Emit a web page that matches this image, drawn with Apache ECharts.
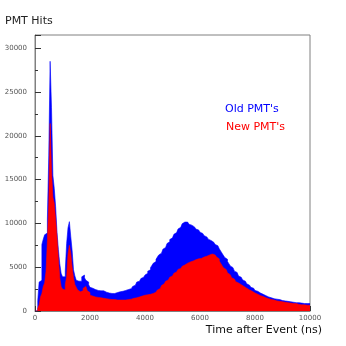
<!DOCTYPE html>
<html>
<head>
<meta charset="utf-8">
<script src="https://cdn.jsdelivr.net/npm/echarts@6/dist/echarts.min.js"></script>
<style>html,body{margin:0;padding:0;background:#fff;}#c{width:346px;height:346px;}</style>
</head>
<body>
<div id="c"></div>
<script>
// Histogram bins: 50 ns wide, bin start times 0..9950
const binWidth = 50;
const xTicks = [0, 2000, 4000, 6000, 8000, 10000];
const yTicks = [0, 5000, 10000, 15000, 20000, 25000, 30000];

// Old PMT's (blue) counts per bin
const oldPMT = [
0,0,1200,3300,3500,7600,8200,8700,8900,10500,
17700,28500,23200,15500,14000,11900,9000,7000,5400,4300,
3900,3900,4600,7700,9500,10200,8500,6900,4700,4000,
3500,3400,3300,3400,3900,4100,3800,3500,3300,3000,
2700,2600,2500,2450,2400,2350,2300,2300,2250,2300,
2200,2150,2100,2050,2100,2000,2050,2000,2050,2100,
2150,2200,2150,2250,2300,2350,2400,2450,2500,2550,
2650,2800,2950,3150,3300,3400,3550,3700,3850,3950,
4100,4300,4550,4700,4950,5200,5450,5650,5900,6150,
6400,6600,6800,7050,7250,7450,7700,7900,8150,8350,
8550,8750,8950,9150,9350,9550,9750,9950,10150,10100,
10150,10000,9900,9800,9700,9600,9500,9350,9250,9100,
9000,8850,8700,8600,8450,8300,8200,8050,7950,7850,
7750,7600,7450,7300,7100,6850,6600,6350,6100,5900,
5650,5400,5150,4950,4750,4550,4400,4200,4000,3850,
3700,3550,3400,3250,3100,2950,2850,2700,2600,2500,
2350,2250,2150,2050,1950,1900,1800,1750,1650,1600,
1550,1500,1450,1400,1400,1350,1300,1300,1250,1200,
1200,1150,1150,1100,1100,1050,1050,1000,1000,950,
950,950,900,900,900,850,850,850,850,850
];

// New PMT's (red) counts per bin
const newPMT = [
0,0,300,700,1600,2000,2800,3200,4500,8000,
12300,21400,16100,13000,12300,10500,8400,6000,3800,2800,
2500,2400,3000,3900,6500,7500,6600,5000,3800,3000,
2700,2400,2200,2100,2300,2600,2800,2600,2300,2100,
1800,1700,1650,1600,1600,1550,1550,1500,1500,1450,
1450,1400,1400,1350,1350,1300,1300,1300,1250,1250,
1250,1250,1250,1250,1250,1250,1300,1300,1350,1350,
1400,1450,1500,1500,1550,1600,1650,1700,1750,1800,
1800,1850,1900,1900,1950,2000,2050,2150,2250,2400,
2550,2700,2900,3100,3250,3400,3550,3700,3850,4000,
4150,4300,4450,4600,4750,4850,5000,5100,5250,5350,
5450,5500,5600,5650,5700,5750,5850,5900,5950,6000,
6000,6050,6150,6200,6250,6300,6400,6450,6500,6450,
6400,6300,6150,5950,5700,5450,5200,4950,4750,4550,
4350,4150,3950,3800,3650,3500,3350,3200,3100,3000,
2900,2800,2700,2600,2500,2400,2300,2250,2150,2050,
2000,1900,1850,1750,1700,1650,1550,1500,1450,1400,
1350,1300,1250,1250,1200,1150,1150,1100,1100,1050,
1000,1000,950,950,900,900,900,850,850,850,
750,750,750,700,700,700,680,660,650,650
];

function toSteps(vals) {
  const pts = vals.map((v, i) => [i * binWidth, v]);
  pts.push([vals.length * binWidth, vals[vals.length - 1]]);
  return pts;
}

const chart = echarts.init(document.getElementById('c'), null, {renderer: 'canvas'});
const axisGray = '#808080';
const labelGray = '#555';
const font = 'DejaVu Sans';

chart.setOption({
  animation: false,
  backgroundColor: '#fff',
  grid: {left: 35, right: 36, top: 35, bottom: 35, show: true, borderColor: axisGray, borderWidth: 1, backgroundColor: 'transparent'},
  xAxis: {
    type: 'value', min: xTicks[0], max: xTicks[xTicks.length - 1], interval: 2000,
    axisLine: {show: true, lineStyle: {color: axisGray, width: 1}},
    axisTick: {show: true, inside: true, length: 5, lineStyle: {color: '#333'}},
    minorTick: {show: true, splitNumber: 4, length: 3, lineStyle: {color: '#333'}},
    splitLine: {show: false},
    axisLabel: {fontFamily: font, fontSize: 7, color: labelGray, margin: 4, formatter: v => String(v)}
  },
  yAxis: {
    type: 'value', min: yTicks[0], max: 31500, interval: 5000,
    axisLine: {show: true, lineStyle: {color: axisGray, width: 1}},
    axisTick: {show: true, inside: true, length: 6, lineStyle: {color: '#333'}},
    minorTick: {show: true, splitNumber: 2, length: 3, lineStyle: {color: '#333'}},
    splitLine: {show: false},
    axisLabel: {fontFamily: font, fontSize: 7, color: labelGray, margin: 8, showMaxLabel: false, formatter: v => String(v)}
  },
  series: [
    {
      name: "Old PMT's", type: 'line', step: 'end', symbol: 'none',
      data: toSteps(oldPMT),
      lineStyle: {color: '#0000ff', width: 0.6},
      areaStyle: {color: '#0000ff', opacity: 1},
      z: 2
    },
    {
      name: "New PMT's", type: 'line', step: 'end', symbol: 'none',
      data: toSteps(newPMT),
      lineStyle: {color: '#ff0000', width: 0.6},
      areaStyle: {color: '#ff0000', opacity: 1},
      z: 3
    }
  ],
  graphic: [
    {type: 'text', left: 5, top: 16, style: {text: 'PMT Hits', font: '11px "DejaVu Sans"', fill: '#222'}},
    {type: 'text', x: 322, y: 330, style: {text: 'Time after Event (ns)', font: '11px "DejaVu Sans"', fill: '#111', align: 'right', verticalAlign: 'middle'}},
    {type: 'text', x: 225, y: 109, style: {text: "Old PMT's", font: '11px "DejaVu Sans"', fill: '#0000ff', verticalAlign: 'middle'}},
    {type: 'text', x: 226, y: 127, style: {text: "New PMT's", font: '11px "DejaVu Sans"', fill: '#ff0000', verticalAlign: 'middle'}}
  ]
});
</script>
</body>
</html>
